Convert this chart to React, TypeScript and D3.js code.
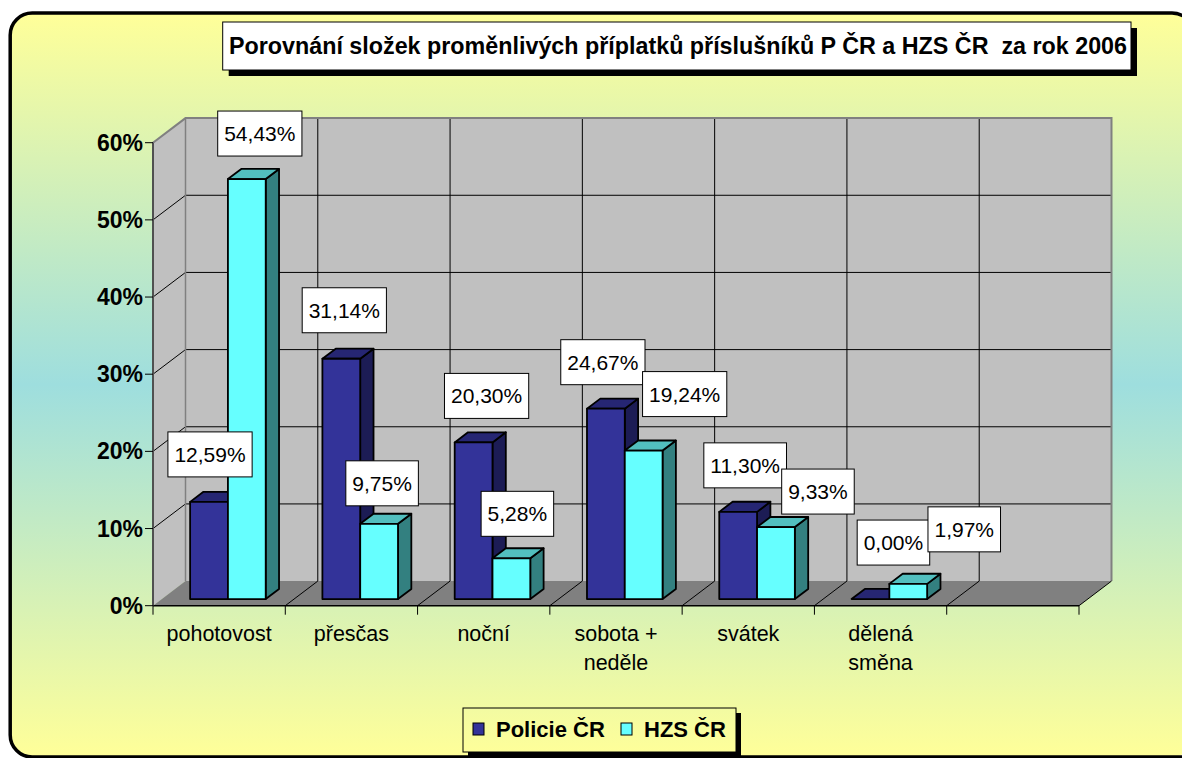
import React from 'react';
import * as d3 from 'd3';

// ---------- data ----------
const categoryKeys = ['pohotovost', 'přesčas', 'noční', 'sobota + neděle', 'svátek', 'dělená směna', ''];
const categoryLines = [['pohotovost'], ['přesčas'], ['noční'], ['sobota +', 'neděle'], ['svátek'], ['dělená', 'směna'], ['']];
const seriesNames = ['Policie ČR', 'HZS ČR'];
const policieValues = [12.59, 31.14, 20.3, 24.67, 11.3, 0.0];
const hzsValues = [54.43, 9.75, 5.28, 19.24, 9.33, 1.97];
const yTicks = [0, 10, 20, 30, 40, 50, 60];
const titleText = 'Porovnání složek proměnlivých příplatků příslušníků P ČR a HZS ČR  za rok 2006';

// manual label nudges (Excel labels moved by hand)
const labelDxPolicie = [1, 3, 13, -3, 7, 23];
const labelDxHzs = [13, 3, 6, 41, 42, 56];
const labelGapPolicie = [25, 26, 24, 24, 24, 34];
const labelGapHzs = [23, 18, 22, 34, 13, 32];

// ---------- layout ----------
const W = 1182, HH = 758;
const X0 = 153, X1 = 1079, Y0 = 605.7, PH = 463;
const DX = 32.5, DY = 24.6;
const D0 = 0.27, D1 = 0.68;
const FONT = '"Liberation Sans", Arial, Helvetica, sans-serif';

const seriesStyle = [
  { front: '#333399', top: '#262673', side: '#1c1c55' },
  { front: '#66FFFF', top: '#52BFBF', side: '#338080' },
];

const proj = (x: number, h: number, d: number): [number, number] => [x + d * DX, Y0 - h - d * DY];
const pts = (arr: [number, number][]) => arr.map((p) => p.join(',')).join(' ');

let ctx: CanvasRenderingContext2D | null = null;
function measure(text: string, font: string) {
  if (!ctx) ctx = document.createElement('canvas').getContext('2d');
  if (!ctx) return text.length * 11;
  ctx.font = font;
  return ctx.measureText(text).width;
}

const fmt = (v: number) => v.toFixed(2).replace('.', ',') + '%';

export default function App() {
  const x = d3.scaleBand<string>().domain(categoryKeys).range([X0, X1]);
  const xs = d3.scaleBand<string>().domain(seriesNames).range([0, x.bandwidth()]).paddingInner(0).paddingOuter(0.75);
  const y = d3.scaleLinear().domain([0, 60]).range([0, PH]);
  const bw = x.bandwidth();
  const boundaries = d3.range(categoryKeys.length + 1).map((i) => X0 + i * bw);

  const seriesValues = [policieValues, hzsValues];
  const labelDx = [labelDxPolicie, labelDxHzs];
  const labelGap = [labelGapPolicie, labelGapHzs];

  const bars: JSX.Element[] = [];
  const labels: JSX.Element[] = [];
  categoryKeys.forEach((cat, ci) => {
    seriesNames.forEach((s, si) => {
      const v = seriesValues[si][ci];
      if (v === undefined) return;
      const xa = (x(cat) as number) + (xs(s) as number);
      const xb = xa + xs.bandwidth();
      const h = y(v);
      const st = seriesStyle[si];
      const front = [proj(xa, h, D0), proj(xb, h, D0), proj(xb, 0, D0), proj(xa, 0, D0)];
      const top = [proj(xa, h, D0), proj(xb, h, D0), proj(xb, h, D1), proj(xa, h, D1)];
      const side = [proj(xb, 0, D0), proj(xb, h, D0), proj(xb, h, D1), proj(xb, 0, D1)];
      bars.push(
        <g key={`b${ci}-${si}`} stroke="#000" strokeWidth={1.8} strokeLinejoin="round">
          {h > 0 && <polygon points={pts(side)} fill={st.side} />}
          <polygon points={pts(top)} fill={st.top} />
          {h > 0 && <polygon points={pts(front)} fill={st.front} />}
        </g>
      );
      const txt = fmt(v);
      const tw = measure(txt, `21px ${FONT}`);
      const bwid = tw + 13;
      const bh = 45;
      const [fx] = proj((xa + xb) / 2, h, D0);
      const cx = fx + labelDx[si][ci];
      const bottom = Y0 - h - D0 * DY - labelGap[si][ci];
      labels.push(
        <g key={`l${ci}-${si}`}>
          <rect x={cx - bwid / 2} y={bottom - bh} width={bwid} height={bh} fill="#fff" stroke="#000" strokeWidth={1} />
          <text x={cx} y={bottom - bh / 2 + 7.5} textAnchor="middle" fontSize={21} fontFamily={FONT} fill="#000">
            {txt}
          </text>
        </g>
      );
    });
  });

  const backTL = proj(X0, PH, 1);
  const backBR = proj(X1, 0, 1);

  // frame path: left, top and bottom edges with their corners; right side lies beyond the view
  const fL = 10.2, fT = 13, fB = 757, fR = 1194, r = 22;
  const framePath = `M ${fR} ${fB} L ${fL + r} ${fB} A ${r} ${r} 0 0 1 ${fL} ${fB - r} L ${fL} ${fT + r} A ${r} ${r} 0 0 1 ${fL + r} ${fT} L ${fR - r} ${fT} A ${r} ${r} 0 0 1 ${fR} ${fT + r}`;

  return (
    <svg width={W} height={HH} style={{ position: 'absolute', left: 0, top: 0, display: 'block' }} fontFamily={FONT}>
      <defs>
        <linearGradient id="bg" gradientUnits="userSpaceOnUse" x1="0" y1="13" x2="0" y2="756">
          <stop offset="0" stopColor="#FFFF99" />
          <stop offset="0.5" stopColor="#9EDEDE" />
          <stop offset="1" stopColor="#FFFF99" />
        </linearGradient>
      </defs>
      <rect x={0} y={0} width={W} height={HH} fill="#fff" />
      <rect x={fL} y={fT} width={fR - fL} height={fB - fT} rx={r} ry={r} fill="url(#bg)" />
      <path d={framePath} fill="none" stroke="#000" strokeWidth={3.5} />

      {/* title */}
      <rect x={228.7} y={28} width={908.3} height={48} fill="#000" />
      <rect x={222.7} y={22} width={908.3} height={48} fill="#fff" stroke="#000" strokeWidth={1} />
      <text x={678} y={54} textAnchor="middle" fontSize={23.3} fontWeight="bold" style={{ whiteSpace: 'pre' }}>
        {titleText}
      </text>

      {/* walls */}
      <rect x={backTL[0]} y={backTL[1]} width={backBR[0] - backTL[0]} height={backBR[1] - backTL[1]} fill="#C0C0C0" />
      <polygon points={pts([proj(X0, 0, 0), proj(X0, PH, 0), proj(X0, PH, 1), proj(X0, 0, 1)])} fill="#C0C0C0" />
      <polygon points={pts([proj(X0, 0, 0), proj(X1, 0, 0), proj(X1, 0, 1), proj(X0, 0, 1)])} fill="#808080" />

      {/* gridlines */}
      {yTicks.filter((t) => t > 0 && t < 60).map((t) => (
        <g key={`g${t}`} stroke="#000" strokeWidth={1}>
          <line x1={proj(X0, y(t), 1)[0]} y1={proj(X0, y(t), 1)[1]} x2={proj(X1, y(t), 1)[0]} y2={proj(X1, y(t), 1)[1]} />
          <line x1={proj(X0, y(t), 0)[0]} y1={proj(X0, y(t), 0)[1]} x2={proj(X0, y(t), 1)[0]} y2={proj(X0, y(t), 1)[1]} />
        </g>
      ))}
      {boundaries.slice(1, -1).map((b, i) => (
        <line key={`v${i}`} x1={proj(b, 0, 1)[0]} y1={proj(b, 0, 1)[1]} x2={proj(b, PH, 1)[0]} y2={proj(b, PH, 1)[1]} stroke="#000" strokeWidth={1} />
      ))}
      {/* wall borders */}
      <polyline points={pts([proj(X0, 0, 0), proj(X0, PH, 0), proj(X0, PH, 1), proj(X1, PH, 1), proj(X1, 0, 1)])} fill="none" stroke="#808080" strokeWidth={2} />
      <line x1={proj(X0, 0, 1)[0]} y1={proj(X0, 0, 1)[1]} x2={proj(X0, PH, 1)[0]} y2={proj(X0, PH, 1)[1]} stroke="#808080" strokeWidth={1.5} />
      {/* floor lines */}
      {boundaries.slice(1).map((b, i) => (
        <line key={`f${i}`} x1={proj(b, 0, 0)[0]} y1={proj(b, 0, 0)[1]} x2={proj(b, 0, 1)[0]} y2={proj(b, 0, 1)[1]} stroke="#000" strokeWidth={1} />
      ))}
      <line x1={X0} y1={Y0} x2={X1} y2={Y0} stroke="#000" strokeWidth={1.5} />
      <line x1={X0} y1={Y0 - PH} x2={X0} y2={Y0} stroke="#404040" strokeWidth={1.5} />

      {/* y ticks */}
      {yTicks.map((t) => (
        <g key={`yt${t}`}>
          <line x1={X0 - 8} y1={Y0 - y(t)} x2={X0} y2={Y0 - y(t)} stroke="#000" strokeWidth={1} />
          <text x={143} y={Y0 - y(t) + 8} textAnchor="end" fontSize={23} fontWeight="bold">{`${t}%`}</text>
        </g>
      ))}
      {/* x ticks and labels */}
      {boundaries.map((b, i) => (
        <line key={`xt${i}`} x1={b} y1={Y0} x2={b} y2={Y0 + 9} stroke="#000" strokeWidth={1} />
      ))}
      {categoryKeys.map((c, i) => (
        <text key={`xl${i}`} x={(x(c) as number) + bw / 2} y={641} textAnchor="middle" fontSize={21.5}>
          {categoryLines[i].map((ln, li) => (
            <tspan key={li} x={(x(c) as number) + bw / 2} dy={li === 0 ? 0 : 29}>{ln}</tspan>
          ))}
        </text>
      ))}

      {bars}
      {labels}

      {/* legend */}
      <rect x={468} y={713} width={273} height={44} fill="#000" />
      <rect x={463} y={708} width={273} height={44} fill="url(#bg)" stroke="#000" strokeWidth={1} />
      {seriesNames.map((s, i) => {
        const lx = [473, 621][i];
        return (
          <g key={`lg${i}`}>
            <rect x={lx} y={723} width={11} height={12} fill={seriesStyle[i].front} stroke="#000" strokeWidth={1} />
            <text x={lx + 23} y={736.5} fontSize={22} fontWeight="bold">{s}</text>
          </g>
        );
      })}
    </svg>
  );
}
